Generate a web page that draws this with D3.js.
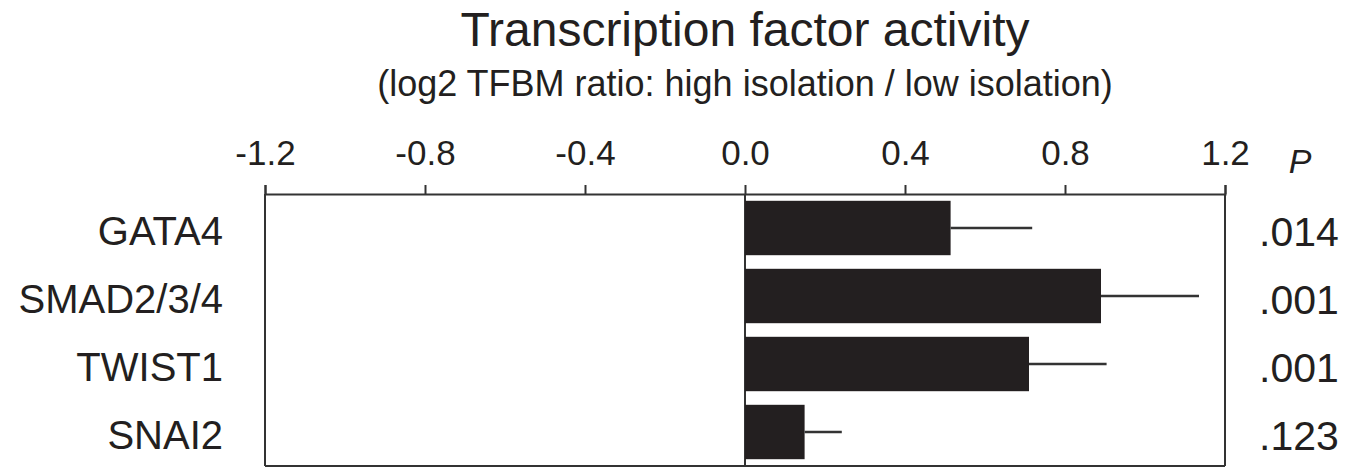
<!DOCTYPE html>
<html>
<head>
<meta charset="utf-8">
<script src="https://cdn.jsdelivr.net/npm/d3@7"></script>
<style>
	body { margin: 0; background: #fff; }
	svg { display: block; font-family: 'Liberation Sans', Arial, sans-serif; }
	.axis .domain, .axis line { stroke: #333; stroke-width: 2; }
	.axis text { fill: #231f20; font-size: 35px; }
</style>
</head>
<body>
<svg width="1361" height="468"></svg>
<script>
const factors = ['GATA4', 'SMAD2/3/4', 'TWIST1', 'SNAI2'];
const ratios = [0.514, 0.89, 0.71, 0.149];
const errors = [0.204, 0.245, 0.194, 0.093];
const pValues = ['.014', '.001', '.001', '.123'];
const ticks = [-1.2, -0.8, -0.4, 0.0, 0.4, 0.8, 1.2];

function init() {
	const svg = d3.select('svg');
	const ink = '#231f20';
	const top = 194;
	const bottom = 466;

	const x = d3.scaleLinear().domain([-1.2, 1.2]).range([265, 1225]);
	const y = d3.scaleBand().domain(factors).range([top, bottom])
		.paddingInner(0.2).paddingOuter(0.1);

	svg.append('text')
		.attr('x', 745)
		.attr('y', 46)
		.attr('text-anchor', 'middle')
		.attr('fill', ink)
		.style('font-size', '48px')
		.text('Transcription factor activity');

	svg.append('text')
		.attr('x', 745)
		.attr('y', 96)
		.attr('text-anchor', 'middle')
		.attr('fill', ink)
		.style('font-size', '36px')
		.text('(log2 TFBM ratio: high isolation / low isolation)');

	// frame: left, right, bottom, zero line
	const frame = svg.append('g').attr('stroke', '#333').attr('stroke-width', 2);
	frame.append('line').attr('x1', x(-1.2)).attr('x2', x(-1.2)).attr('y1', top).attr('y2', bottom);
	frame.append('line').attr('x1', x(1.2)).attr('x2', x(1.2)).attr('y1', top).attr('y2', bottom);
	frame.append('line').attr('x1', x(-1.2)).attr('x2', x(1.2)).attr('y1', bottom).attr('y2', bottom);
	frame.append('line').attr('x1', x(0)).attr('x2', x(0)).attr('y1', top).attr('y2', bottom);

	svg.append('g')
		.attr('class', 'axis')
		.attr('transform', 'translate(0,' + top + ')')
		.call(d3.axisTop(x).tickValues(ticks).tickSize(9).tickSizeOuter(9).tickPadding(20)
			.tickFormat(d => d.toFixed(1)));

	svg.append('text')
		.attr('x', 1300)
		.attr('y', 173)
		.attr('text-anchor', 'middle')
		.attr('fill', ink)
		.style('font-size', '34px')
		.style('font-style', 'italic')
		.text('P');

	const rows = factors.map((f, i) => ({name: f, value: ratios[i], err: errors[i], p: pValues[i]}));

	svg.append('g').selectAll('rect')
		.data(rows)
		.join('rect')
		.attr('x', x(0))
		.attr('y', d => y(d.name))
		.attr('width', d => x(d.value) - x(0))
		.attr('height', y.bandwidth())
		.attr('fill', ink);

	svg.append('g').selectAll('line')
		.data(rows)
		.join('line')
		.attr('x1', d => x(d.value))
		.attr('x2', d => x(d.value + d.err))
		.attr('y1', d => y(d.name) + y.bandwidth() / 2)
		.attr('y2', d => y(d.name) + y.bandwidth() / 2)
		.attr('stroke', '#333')
		.attr('stroke-width', 2.5);

	svg.append('g').selectAll('text')
		.data(rows)
		.join('text')
		.attr('x', 223)
		.attr('y', d => y(d.name) + y.bandwidth() / 2)
		.attr('dy', '0.42em')
		.attr('text-anchor', 'end')
		.attr('fill', ink)
		.style('font-size', '40px')
		.text(d => d.name);

	svg.append('g').selectAll('text')
		.data(rows)
		.join('text')
		.attr('x', 1259)
		.attr('y', d => y(d.name) + y.bandwidth() / 2)
		.attr('dy', '0.45em')
		.attr('fill', ink)
		.style('font-size', '41px')
		.text(d => d.p);
}

init();
</script>
</body>
</html>
